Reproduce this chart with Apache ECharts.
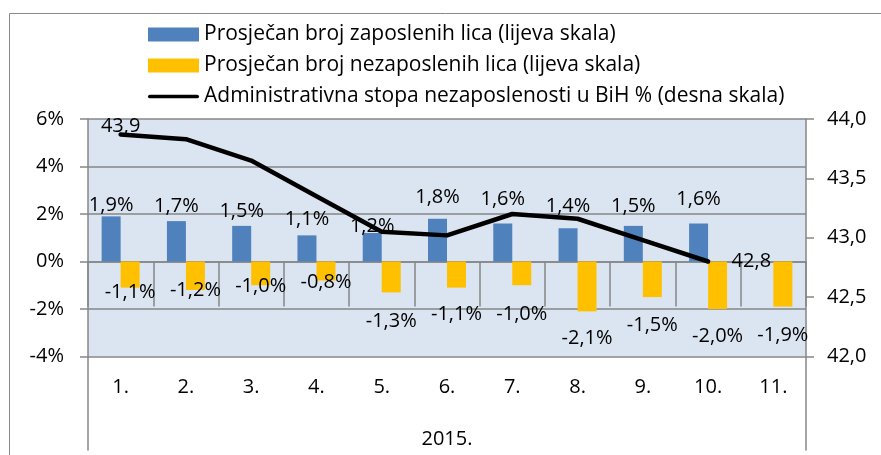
<!DOCTYPE html>
<html>
<head>
<meta charset="utf-8">
<script src="https://cdn.jsdelivr.net/npm/echarts@6/dist/echarts.min.js"></script>
<style>
html,body{margin:0;padding:0;background:#fff;}
#c{width:881px;height:455px;}
</style>
</head>
<body>
<div id="c"></div>
<script>
// ---- data ----
var categories = ['1.', '2.', '3.', '4.', '5.', '6.', '7.', '8.', '9.', '10.', '11.'];
var yearLabel = ['2015.'];
var employed = [1.9, 1.7, 1.5, 1.1, 1.2, 1.8, 1.6, 1.4, 1.5, 1.6, null];
var unemployed = [-1.1, -1.2, -1.0, -0.8, -1.3, -1.1, -1.0, -2.1, -1.5, -2.0, -1.9];
var rate = [43.87, 43.83, 43.65, 43.35, 43.05, 43.02, 43.20, 43.16, 42.98, 42.80, null];
var seriesNames = [
  'Prosječan broj zaposlenih lica (lijeva skala)',
  'Prosječan broj nezaposlenih lica (lijeva skala)',
  'Administrativna stopa nezaposlenosti u BiH % (desna skala)'
];
var leftTicks = {min: -4, max: 6, interval: 2};
var rightTicks = {min: 42, max: 44, interval: 0.5};

// ---- label placement (layout, not data) ----
var empLabelDist = [1, 5, 5, 6, -3, 11, 14, 12, 10, 14, 0];
var unempLabelDist = [-5, -10, -9, -8, 19, 17, 19, 17, 18, 17, 19];

var FONT = '"Open Sans", sans-serif';
var AX = '#868686';
function pct(v){ return v.toFixed(1).replace('.', ',') + '%'; }
function dec(v){ return v.toFixed(1).replace('.', ','); }

var empData = employed.map(function(v, i){
  if (v === null) return '-';
  return {value: v, label: {distance: empLabelDist[i]}};
});
var unempData = unemployed.map(function(v, i){
  return {value: v, label: {distance: unempLabelDist[i]}};
});
var lastIdx = 0;
rate.forEach(function(v, i){ if (v !== null) lastIdx = i; });
var rateData = rate.map(function(v, i){
  if (v === null) return '-';
  var item = {value: v};
  if (i === 0) item.label = {show: true, position: 'top', distance: -2};
  else if (i === lastIdx) item.label = {show: true, position: 'right', distance: 23};
  return item;
});

var chart = echarts.init(document.getElementById('c'), null, {renderer: 'canvas'});
chart.setOption({
  animation: false,
  textStyle: {fontFamily: FONT},
  graphic: [{
    type: 'rect', silent: true, z: -1,
    shape: {x: 9.5, y: 13.5, width: 900, height: 500},
    style: {fill: 'none', stroke: '#8a8a8a', lineWidth: 1}
  }],
  legend: {
    orient: 'vertical', left: 143, top: 19,
    itemWidth: 51, itemHeight: 14, itemGap: 10,
    textStyle: {fontFamily: FONT, fontSize: 21, color: '#000', lineHeight: 20},
    data: [
      {name: seriesNames[0], icon: 'rect'},
      {name: seriesNames[1], icon: 'rect'},
      {name: seriesNames[2], icon: 'path://M2,0 L53,0 A2,2 0 0 1 53,4 L2,4 A2,2 0 0 1 2,0 Z', itemStyle: {color: '#000'}}
    ]
  },
  grid: {left: 88, right: 75, top: 119, bottom: 98.5, show: true, backgroundColor: '#DBE5F1', borderWidth: 0, containLabel: false, outerBoundsMode: 'none'},
  xAxis: [{
    type: 'category', data: categories, position: 'bottom',
    axisLine: {lineStyle: {color: AX, width: 1.5}},
    axisTick: {show: true, alignWithLabel: false, length: 45, lineStyle: {color: AX, width: 1.5}},
    axisLabel: {margin: 21, fontSize: 20, color: '#000', fontFamily: FONT}
  }, {
    type: 'category', data: yearLabel, position: 'bottom',
    axisLine: {show: false},
    axisTick: {show: true, length: 94, lineStyle: {color: AX, width: 1.5}},
    axisLabel: {margin: 73, fontSize: 20, color: '#000', fontFamily: FONT}
  }],
  yAxis: [{
    type: 'value', min: leftTicks.min, max: leftTicks.max, interval: leftTicks.interval,
    axisLine: {show: true, lineStyle: {color: AX, width: 1.5}},
    axisTick: {show: true, length: 8, lineStyle: {color: AX, width: 1.5}},
    splitLine: {show: true, lineStyle: {color: AX, width: 1.5}},
    axisLabel: {margin: 24, fontSize: 20, color: '#000', fontFamily: FONT, formatter: function(v){ return v + '%'; }}
  }, {
    type: 'value', min: rightTicks.min, max: rightTicks.max, interval: rightTicks.interval, position: 'right',
    axisLine: {show: true, lineStyle: {color: AX, width: 1.5}},
    axisTick: {show: true, length: 8, lineStyle: {color: AX, width: 1.5}},
    splitLine: {show: false},
    axisLabel: {margin: 21, fontSize: 20, color: '#000', fontFamily: FONT, formatter: function(v){ return dec(v); }}
  }],
  series: [{
    name: seriesNames[0], type: 'bar', data: empData, barWidth: 19, barGap: '0%',
    itemStyle: {color: '#4F81BD'},
    label: {show: true, position: 'top', fontSize: 20, color: '#000', fontFamily: FONT, formatter: function(p){ return pct(p.value); }}
  }, {
    name: seriesNames[1], type: 'bar', data: unempData, barWidth: 19, barGap: '0%',
    itemStyle: {color: '#FFC000'},
    label: {show: true, position: 'bottom', fontSize: 20, color: '#000', fontFamily: FONT, formatter: function(p){ return pct(p.value); }}
  }, {
    name: seriesNames[2], type: 'line', yAxisIndex: 1, data: rateData,
    symbol: 'circle', symbolSize: 1, showSymbol: true, connectNulls: false,
    lineStyle: {color: '#000', width: 4.5, cap: 'round', join: 'round'},
    itemStyle: {color: '#000'},
    label: {show: false, fontSize: 20, color: '#000', fontFamily: FONT, formatter: function(p){ return dec(p.value); }},
    z: 5
  }]
});
</script>
</body>
</html>
